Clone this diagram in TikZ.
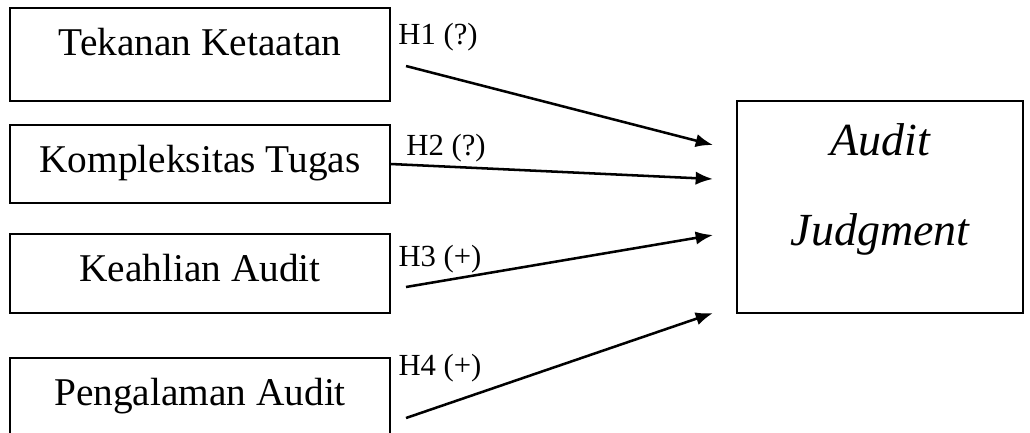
\documentclass[tikz,border=0pt]{standalone}
\usepackage{fontspec}
\setmainfont{Liberation Serif}
\usetikzlibrary{arrows.meta}

\begin{document}
\begin{tikzpicture}[x=0.75pt,y=-0.75pt]

\tikzset{var/.style = {shape=rectangle,draw,line width=1.2pt,minimum width=285pt,inner sep=0pt,font=\fontsize{29.5}{35}\selectfont,text height=21pt}}
\tikzset{hyp/.style = {inner sep=0pt,font=\fontsize{23}{27}\selectfont}}
\tikzset{edge/.style = {-{Latex[length=13pt,width=10pt]},line width=1.9pt}}

\useasboundingbox (0,0) rectangle (1030,432);
%variables
\node[var, minimum height=69.75pt, text depth=20pt] (tk) at (200,54.5) {Tekanan Ketaatan};
\node[var, minimum height=58.5pt, text depth=9pt] (kt) at (200,164) {Kompleksitas Tugas};
\node[var, minimum height=59.25pt, text depth=9pt] (ka) at (200,273.5) {Keahlian Audit};
\node[var, minimum height=69.75pt, text depth=19pt] (pa) at (200,404.5) {Pengalaman Audit};
\node[var, minimum width=214.5pt, minimum height=159pt, align=center, text height=92pt, text depth=34pt,
      font=\itshape\fontsize{34.5}{68}\selectfont] (aj) at (880,207) {Audit\\Judgment};
%end points
\coordinate (s1) at (406,66);
\coordinate (s3) at (406,287);
\coordinate (s4) at (406,418);
\coordinate (e1) at (713,145);
\coordinate (e2) at (713,179);
\coordinate (e3) at (713,235);
\coordinate (e4) at (713,313);
%edges
\draw[edge] (s1) -- (e1);
\draw[edge] (kt.east) -- (e2);
\draw[edge] (s3) -- (e3);
\draw[edge] (s4) -- (e4);
%labels
\node[hyp] (h1) at (438,37) {H1 (?)};
\node[hyp] (h2) at (446,148) {H2 (?)};
\node[hyp] (h3) at (440,259) {H3 (+)};
\node[hyp] (h4) at (440,368) {H4 (+)};

\end{tikzpicture}
\end{document}
